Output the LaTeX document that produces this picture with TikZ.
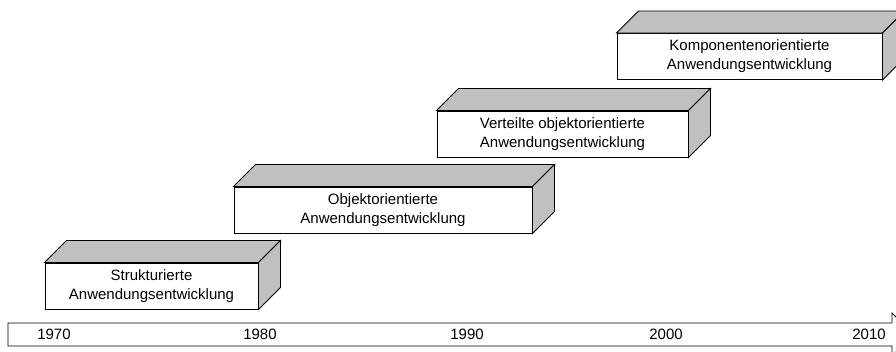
\documentclass[tikz,border=0pt]{standalone}
\usepackage{fontspec}
\setmainfont{Liberation Sans}
\definecolor{sidegrey}{RGB}{192,192,192}
\begin{document}
\begin{tikzpicture}[x=1pt,y=1pt,
  front/.style={draw=black, line width=0.9pt, fill=white, inner sep=0pt,
    minimum height=46pt, align=center, font=\fontsize{15}{19}\selectfont},
  shade/.style={draw=black, line width=0.9pt, fill=sidegrey, line join=miter},
  year/.style={font=\fontsize{15}{18}\selectfont, inner sep=0pt},
  bar/.style={draw=black, line width=0.9pt, fill=white}]
\useasboundingbox (0,0) rectangle (896,352);
\begin{scope}
\clip (0,0) rectangle (896,352);

% time axis as a block arrow
\draw[bar] (8,6) -- (892,6) -- (892,-4) -- (914,17.5) -- (892,39) -- (892,29) -- (8,29) -- cycle;
\node[year] (y1970) at (54,18) {1970};
\node[year] (y1980) at (260,18) {1980};
\node[year] (y1990) at (467,18) {1990};
\node[year] (y2000) at (666,18) {2000};
\node[year] (y2010) at (869,18) {2010};

% cuboid: front face node plus shaded top and right side
\newcommand{\cuboid}[4]{%
  \node[front, minimum width=#3] (#1) at #2 {#4};
  \draw[shade] (#1.north west) -- ([shift={(22,22)}]#1.north west)
     -- ([shift={(22,22)}]#1.north east) -- (#1.north east) -- cycle;
  \draw[shade] (#1.north east) -- ([shift={(22,22)}]#1.north east)
     -- ([shift={(22,22)}]#1.south east) -- (#1.south east) -- cycle;
}

\cuboid{struct}{(151.5,66)}{213pt}{Strukturierte\\Anwendungsentwicklung}
\cuboid{oo}{(383,142)}{298pt}{Objektorientierte\\Anwendungsentwicklung}
\cuboid{voo}{(562.5,218)}{251pt}{Verteilte objektorientierte\\Anwendungsentwicklung}
\cuboid{comp}{(749.5,295.5)}{265pt}{Komponentenorientierte\\Anwendungsentwicklung}
\end{scope}
\end{tikzpicture}
\end{document}
